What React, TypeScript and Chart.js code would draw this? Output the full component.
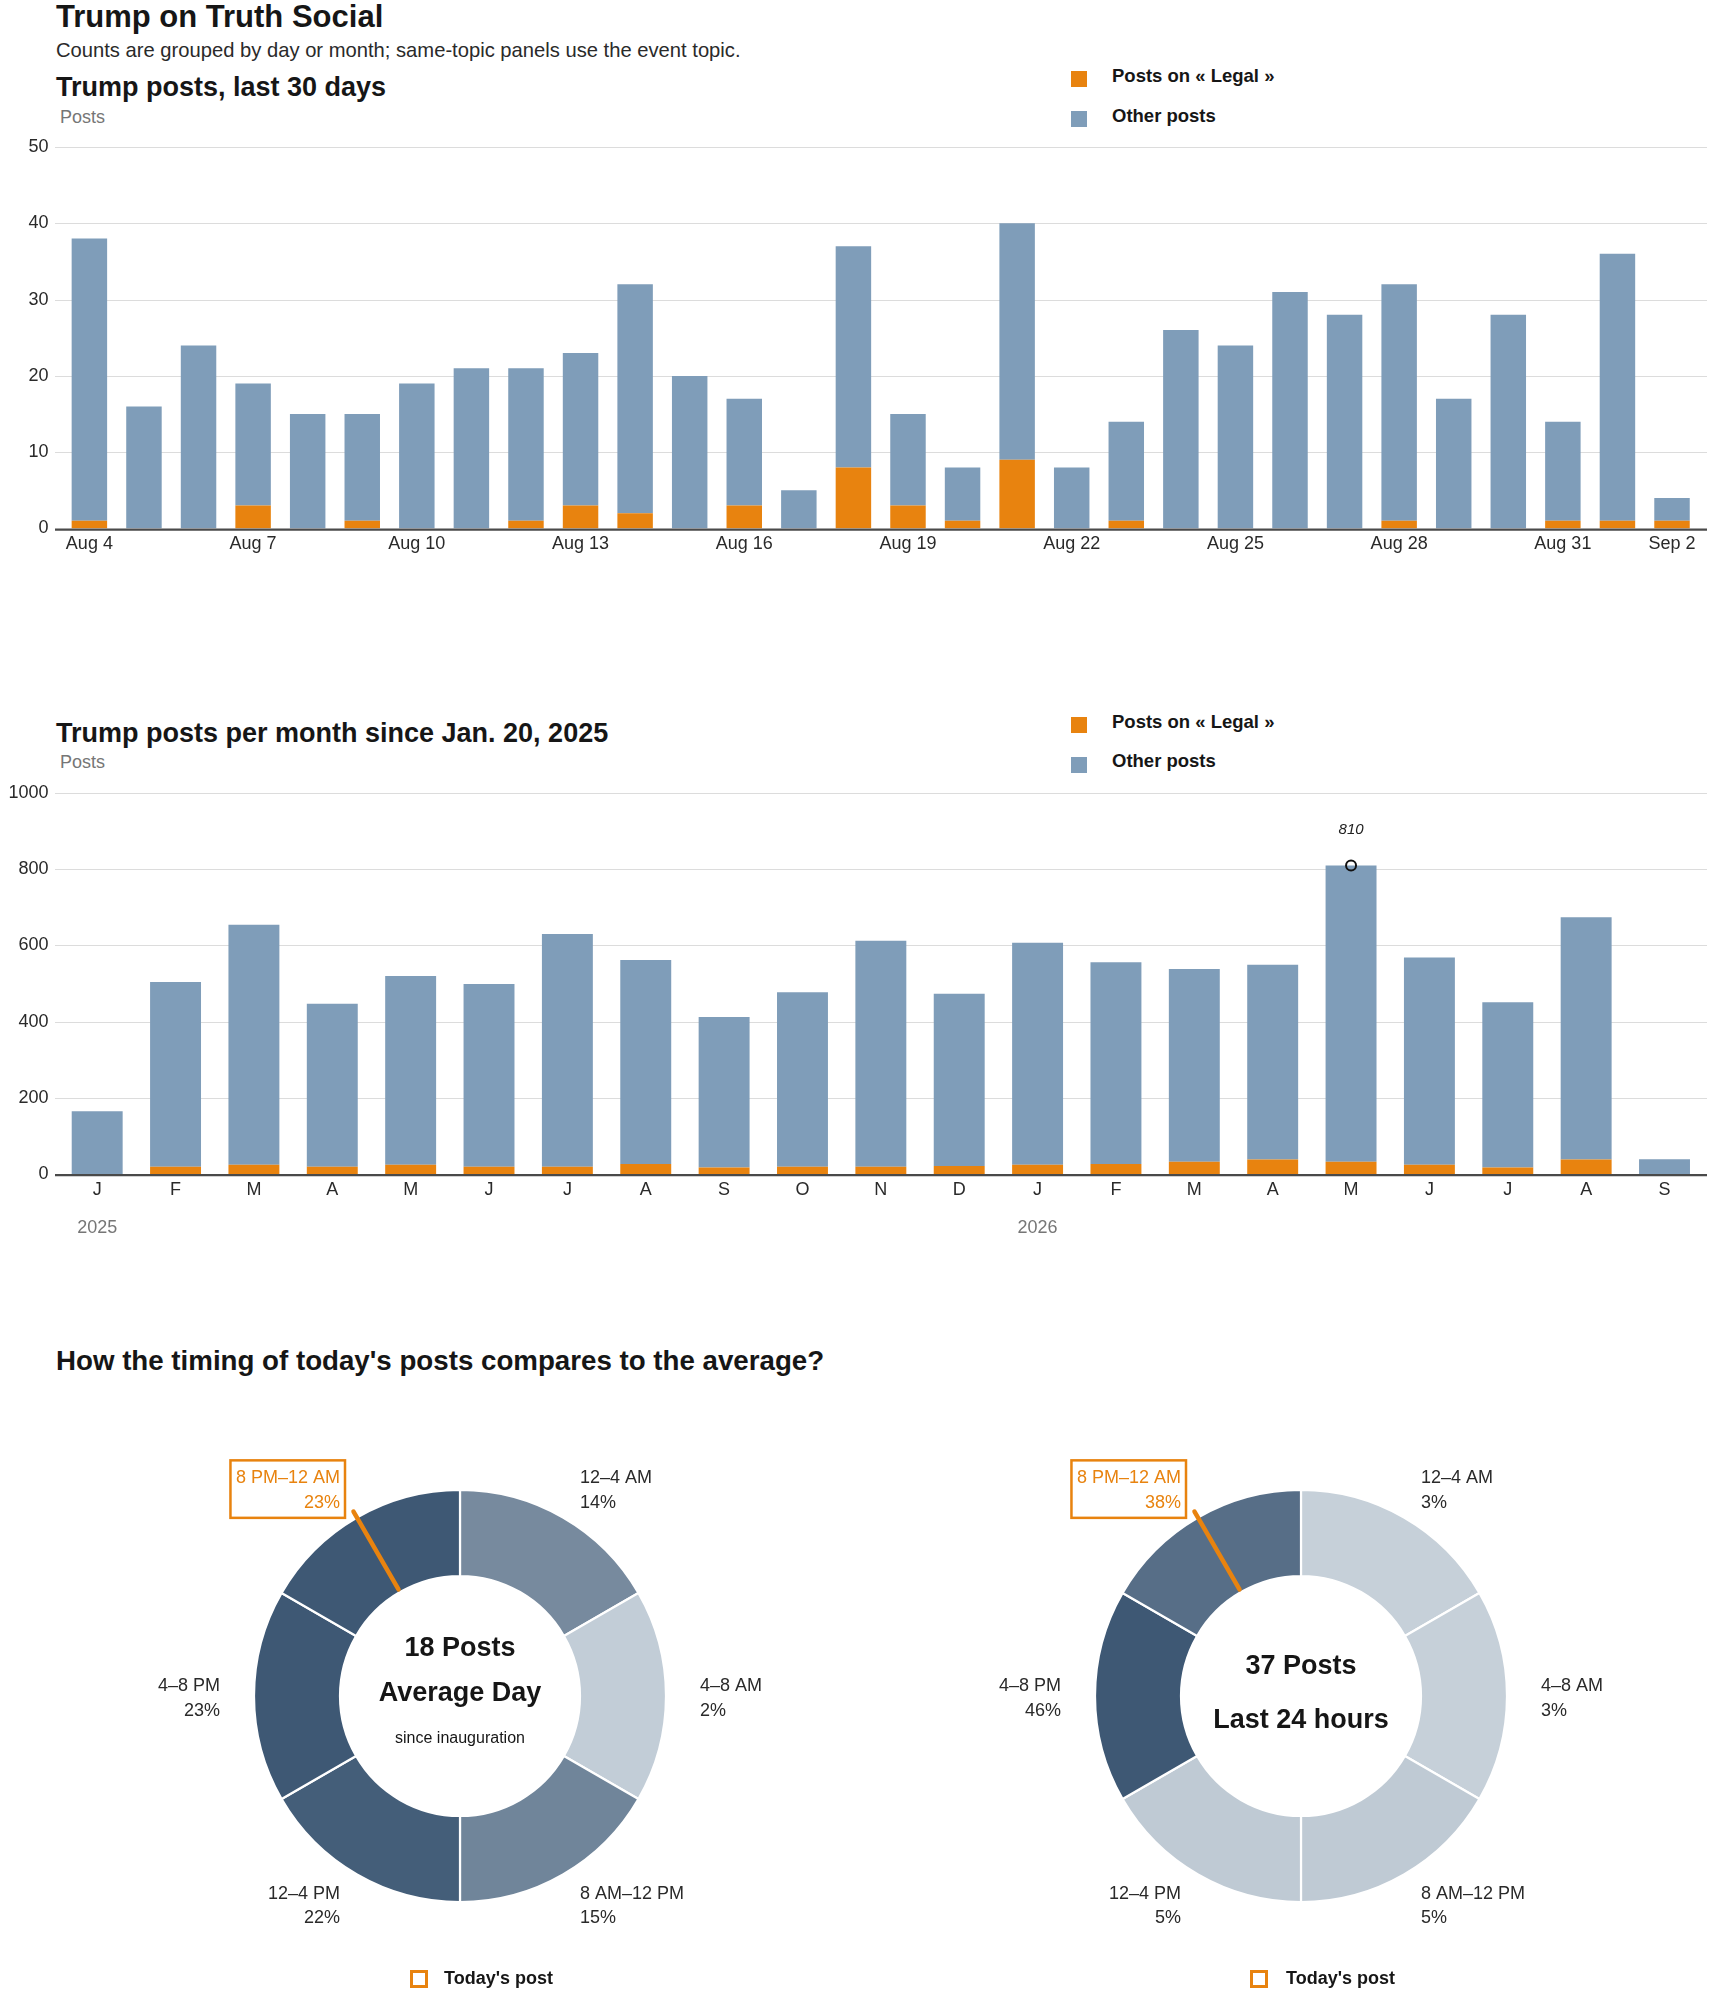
import React, { useEffect, useRef } from "react";
import { Chart, registerables } from "chart.js";

Chart.register(...registerables);

// ---------------- data ----------------
const dayLabels = [
  "Aug 4", "Aug 5", "Aug 6", "Aug 7", "Aug 8", "Aug 9", "Aug 10", "Aug 11", "Aug 12", "Aug 13",
  "Aug 14", "Aug 15", "Aug 16", "Aug 17", "Aug 18", "Aug 19", "Aug 20", "Aug 21", "Aug 22", "Aug 23",
  "Aug 24", "Aug 25", "Aug 26", "Aug 27", "Aug 28", "Aug 29", "Aug 30", "Aug 31", "Sep 1", "Sep 2",
];
const dayTickLabels = ["Aug 4", "Aug 7", "Aug 10", "Aug 13", "Aug 16", "Aug 19", "Aug 22", "Aug 25", "Aug 28", "Aug 31", "Sep 2"];
const dayLegalPosts = [1, 0, 0, 3, 0, 1, 0, 0, 1, 3, 2, 0, 3, 0, 8, 3, 1, 9, 0, 1, 0, 0, 0, 0, 1, 0, 0, 1, 1, 1];
const dayAllPosts = [38, 16, 24, 19, 15, 15, 19, 21, 21, 23, 32, 20, 17, 5, 37, 15, 8, 40, 8, 14, 26, 24, 31, 28, 32, 17, 28, 14, 36, 4];

const monthLabels = ["J", "F", "M", "A", "M", "J", "J", "A", "S", "O", "N", "D", "J", "F", "M", "A", "M", "J", "J", "A", "S"];
const monthLegalPosts = [0, 19, 24, 19, 24, 19, 19, 26, 17, 19, 19, 21, 24, 26, 32, 38, 32, 24, 17, 38, 0];
const monthAllPosts = [165, 504, 654, 447, 520, 499, 630, 562, 412, 477, 612, 473, 607, 556, 538, 549, 810, 568, 451, 674, 39];
const yearLabels = ["2025", "2026"];
const yearStartIndex = [0, 12];

const timeSlots = ["12–4 AM", "4–8 AM", "8 AM–12 PM", "12–4 PM", "4–8 PM", "8 PM–12 AM"];
const slotHours = [4, 4, 4, 4, 4, 4];
const averageShare = [14, 2, 15, 22, 23, 23];
const todayShare = [3, 3, 5, 5, 46, 38];
const todayPostHour = 22;
const averageCenter = ["18 Posts", "Average Day", "since inauguration"];
const todayCenter = ["37 Posts", "Last 24 hours"];

// ---------------- style ----------------
const FONT = "'Liberation Sans', Arial, Helvetica, sans-serif";
const ORANGE = "#e8830f";
const BLUE = "#7f9db9";
const INK = "#161616";
const INK2 = "#2a2a2a";
const GRAY = "#767676";
const GRID = "#dcdcdc";
const AXIS = "#4a4a4a";
const GRID_X0 = 55;
const GRID_X1 = 1707;
const PAGE_W = 1710;
const OFFSET2 = 645.5;

function Txt(props: any) {
  const { x, base, size, bold, color, italic, children } = props;
  return (
    <div
      style={{
        position: "absolute",
        left: x,
        top: base - 0.8465 * size,
        fontSize: size,
        lineHeight: 1,
        fontWeight: bold ? 700 : 400,
        fontStyle: italic ? "italic" : "normal",
        color: color || INK,
        whiteSpace: "nowrap",
        fontFamily: FONT,
      }}
    >
      {children}
    </div>
  );
}

function Swatch(props: any) {
  const { x, y, size, color, hollow } = props;
  return (
    <div
      style={{
        position: "absolute",
        left: x,
        top: y,
        width: size,
        height: size,
        boxSizing: "border-box",
        background: hollow ? "transparent" : color,
        border: hollow ? `3px solid ${color}` : "none",
      }}
    />
  );
}

function BarPanel(props: any) {
  const ref = useRef<HTMLCanvasElement>(null);
  useEffect(() => {
    const { labels, legal, all, yMax, yStep, area, height, showTick, extra } = props;
    const other = all.map((v: number, i: number) => v - legal[i]);
    const gridPlugin = {
      id: "gridExt",
      beforeDatasetsDraw(chart: any) {
        const y = chart.scales.y;
        const ctx = chart.ctx;
        ctx.save();
        ctx.strokeStyle = GRID;
        ctx.lineWidth = 1;
        y.ticks.forEach((t: any) => {
          if (t.value === 0) return;
          const py = Math.round(y.getPixelForValue(t.value)) + 0.5;
          ctx.beginPath();
          ctx.moveTo(GRID_X0, py);
          ctx.lineTo(GRID_X1, py);
          ctx.stroke();
        });
        ctx.restore();
      },
      afterDatasetsDraw(chart: any) {
        const y = chart.scales.y;
        const ctx = chart.ctx;
        const py = y.getPixelForValue(0) + 1.1;
        ctx.save();
        ctx.strokeStyle = AXIS;
        ctx.lineWidth = 2.4;
        ctx.beginPath();
        ctx.moveTo(GRID_X0, py);
        ctx.lineTo(GRID_X1, py);
        ctx.stroke();
        ctx.restore();
      },
    };
    const chart = new Chart(ref.current as HTMLCanvasElement, {
      type: "bar",
      data: {
        labels,
        datasets: [
          { label: "Posts on « Legal »", data: legal, backgroundColor: ORANGE, borderWidth: 0, categoryPercentage: 1, barPercentage: 0.65 },
          { label: "Other posts", data: other, backgroundColor: BLUE, borderWidth: 0, categoryPercentage: 1, barPercentage: 0.65 },
        ],
      },
      options: {
        animation: false,
        responsive: false,
        events: [],
        layout: { padding: { top: area.top, right: PAGE_W - area.right, left: 0, bottom: 0 } },
        plugins: { legend: { display: false }, tooltip: { enabled: false } },
        scales: {
          x: {
            stacked: true,
            grid: { display: false, drawTicks: false },
            border: { display: false },
            ticks: {
              autoSkip: false,
              maxRotation: 0,
              minRotation: 0,
              padding: 5,
              color: INK2,
              font: { family: FONT, size: 18, lineHeight: 1.2 },
              callback: (_v: any, i: number) => (showTick(labels[i], i) ? labels[i] : null),
            },
            afterFit: (s: any) => {
              s.height = height - area.bottom;
            },
          },
          y: {
            stacked: true,
            min: 0,
            max: yMax,
            grid: { display: false, drawTicks: false },
            border: { display: false },
            ticks: {
              stepSize: yStep,
              padding: area.left - 48.5,
              color: INK2,
              font: { family: FONT, size: 18, lineHeight: 0.2 },
              callback: (v: any) => String(v),
            },
            afterFit: (s: any) => {
              s.width = area.left;
            },
          },
        },
      } as any,
      plugins: extra ? [gridPlugin, extra] : [gridPlugin],
    });
    return () => chart.destroy();
  }, []);
  return (
    <canvas
      ref={ref}
      width={PAGE_W}
      height={props.height}
      style={{ position: "absolute", left: 0, top: props.top, width: PAGE_W, height: props.height }}
    />
  );
}

function shadeFor(t: number) {
  const light = [207, 216, 224];
  const dark = [62, 88, 116];
  const c = light.map((l, k) => Math.round(l + (dark[k] - l) * t));
  return `rgb(${c[0]},${c[1]},${c[2]})`;
}

function DonutPanel(props: any) {
  const ref = useRef<HTMLCanvasElement>(null);
  const W = 800;
  const H = 552;
  useEffect(() => {
    const { shares, center, centerStyles } = props;
    const maxShare = Math.max(...shares);
    const colors = shares.map((s: number) => shadeFor(s / maxShare));
    const totalHours = slotHours.reduce((a, b) => a + b, 0);
    let acc = 0;
    let hi = -1;
    slotHours.forEach((h, i) => {
      if (todayPostHour >= acc && todayPostHour < acc + h) hi = i;
      acc += h;
    });
    const labelPlugin = {
      id: "donutLabels",
      afterDraw(chart: any) {
        const ctx = chart.ctx;
        const arcs = chart.getDatasetMeta(0).data;
        const a0 = arcs[0];
        const cx = a0.x;
        const cy = a0.y;
        const outer = a0.outerRadius;
        const inner = a0.innerRadius;
        const R = outer + 34;
        ctx.save();
        ctx.font = `18px ${FONT}`;
        ctx.textBaseline = "alphabetic";
        arcs.forEach((arc: any, i: number) => {
          const a = (arc.startAngle + arc.endAngle) / 2;
          const px = cx + R * Math.cos(a);
          const py = cy + R * Math.sin(a);
          const c = Math.cos(a);
          const align = c > 0.1 ? "left" : c < -0.1 ? "right" : "center";
          ctx.textAlign = align;
          ctx.fillStyle = i === hi ? ORANGE : INK2;
          const l1 = timeSlots[i];
          const l2 = `${shares[i]}%`;
          ctx.fillText(l1, px, py - 4.8);
          ctx.fillText(l2, px, py + 19.5);
          if (i === hi) {
            const w = Math.max(ctx.measureText(l1).width, ctx.measureText(l2).width);
            let x0 = px - 5;
            let x1 = px + w + 5;
            if (align === "right") {
              x0 = px - w - 5.5;
              x1 = px + 5;
            }
            ctx.strokeStyle = ORANGE;
            ctx.lineWidth = 2.5;
            ctx.strokeRect(x0, py - 27.8, x1 - x0, 57.5);
          }
        });
        // today's post marker
        const th = (todayPostHour / totalHours) * Math.PI * 2 - Math.PI / 2;
        ctx.strokeStyle = ORANGE;
        ctx.lineWidth = 4.5;
        ctx.lineCap = "round";
        ctx.beginPath();
        ctx.moveTo(cx + (inner + 3) * Math.cos(th), cy + (inner + 3) * Math.sin(th));
        ctx.lineTo(cx + (outer + 7) * Math.cos(th), cy + (outer + 7) * Math.sin(th));
        ctx.stroke();
        // center text
        ctx.textAlign = "center";
        ctx.fillStyle = INK;
        center.forEach((t: string, k: number) => {
          const st = centerStyles[k];
          ctx.font = `${st.bold ? "bold " : ""}${st.size}px ${FONT}`;
          ctx.fillText(t, cx, cy + st.dy);
        });
        ctx.restore();
      },
    };
    const chart = new Chart(ref.current as HTMLCanvasElement, {
      type: "doughnut",
      data: {
        labels: timeSlots,
        datasets: [
          {
            data: slotHours,
            backgroundColor: colors,
            borderColor: "#ffffff",
            borderWidth: 2.2,
          },
        ],
      },
      options: {
        animation: false,
        responsive: false,
        events: [],
        radius: 206,
        cutout: `${(120 / 206) * 100}%`,
        layout: { padding: 0 },
        plugins: { legend: { display: false }, tooltip: { enabled: false } },
      } as any,
      plugins: [labelPlugin],
    });
    return () => chart.destroy();
  }, []);
  return (
    <canvas
      ref={ref}
      width={W}
      height={H}
      style={{ position: "absolute", left: props.cx - W / 2, top: props.cy - H / 2, width: W, height: H }}
    />
  );
}

const peakPlugin = {
  id: "peak",
  afterDatasetsDraw(chart: any) {
    const x = chart.scales.x;
    const y = chart.scales.y;
    const ctx = chart.ctx;
    let idx = 0;
    monthAllPosts.forEach((v, i) => {
      if (v > monthAllPosts[idx]) idx = i;
    });
    const px = x.getPixelForValue(idx);
    const py = y.getPixelForValue(monthAllPosts[idx]);
    ctx.save();
    ctx.strokeStyle = "#111";
    ctx.lineWidth = 2;
    ctx.beginPath();
    ctx.arc(px, py, 5, 0, Math.PI * 2);
    ctx.stroke();
    ctx.fillStyle = "#222";
    ctx.font = `italic 15px ${FONT}`;
    ctx.textAlign = "center";
    ctx.textBaseline = "alphabetic";
    ctx.fillText(String(monthAllPosts[idx]), px, py - 31);
    ctx.restore();
  },
};

const CH2_TOP = 776;
const yearPlugin = {
  id: "years",
  afterDraw(chart: any) {
    const x = chart.scales.x;
    const ctx = chart.ctx;
    ctx.save();
    ctx.fillStyle = GRAY;
    ctx.font = `18px ${FONT}`;
    ctx.textAlign = "center";
    ctx.textBaseline = "alphabetic";
    yearLabels.forEach((lab, k) => {
      ctx.fillText(lab, x.getPixelForValue(yearStartIndex[k]), 1233.2 - CH2_TOP);
    });
    ctx.restore();
  },
};
const ch2Extra = {
  id: "ch2extra",
  afterDatasetsDraw(chart: any) {
    peakPlugin.afterDatasetsDraw(chart);
  },
  afterDraw(chart: any) {
    yearPlugin.afterDraw(chart);
  },
};

export default function App() {
  const D = OFFSET2;
  return (
    <div
      style={{
        position: "absolute",
        left: 0,
        top: 0,
        width: PAGE_W,
        height: 1993,
        overflow: "hidden",
        background: "#fff",
        fontFamily: FONT,
        color: INK,
      }}
    >
      <Txt x={56} base={27} size={31} bold>Trump on Truth Social</Txt>
      <Txt x={56} base={57} size={20.2} color={INK2}>
        Counts are grouped by day or month; same-topic panels use the event topic.
      </Txt>

      {/* panel 1 */}
      <Txt x={56} base={97} size={27} bold>Trump posts, last 30 days</Txt>
      <Txt x={60} base={123} size={18} color={GRAY}>Posts</Txt>
      <Swatch x={1071} y={71} size={16} color={ORANGE} />
      <Txt x={1112} base={83} size={18.5} bold>Posts on « Legal »</Txt>
      <Swatch x={1071} y={111} size={16} color={BLUE} />
      <Txt x={1112} base={122.5} size={18.5} bold>Other posts</Txt>
      <BarPanel
        top={130}
        height={430}
        labels={dayLabels}
        legal={dayLegalPosts}
        all={dayAllPosts}
        yMax={50}
        yStep={10}
        area={{ left: 62.1, right: 1699.3, top: 17, bottom: 398.5 }}
        showTick={(l: string) => dayTickLabels.includes(l)}
      />

      {/* panel 2 */}
      <Txt x={56} base={97 + D} size={27} bold>Trump posts per month since Jan. 20, 2025</Txt>
      <Txt x={60} base={123 + D} size={18} color={GRAY}>Posts</Txt>
      <Swatch x={1071} y={71 + D} size={16} color={ORANGE} />
      <Txt x={1112} base={83 + D} size={18.5} bold>Posts on « Legal »</Txt>
      <Swatch x={1071} y={111 + D} size={16} color={BLUE} />
      <Txt x={1112} base={122.5 + D} size={18.5} bold>Other posts</Txt>
      <BarPanel
        top={CH2_TOP}
        height={470}
        labels={monthLabels}
        legal={monthLegalPosts}
        all={monthAllPosts}
        yMax={1000}
        yStep={200}
        area={{ left: 58, right: 1703.7, top: 17, bottom: 398 }}
        showTick={() => true}
        extra={ch2Extra}
      />

      {/* panel 3 */}
      <Txt x={56} base={1370.7} size={27.7} bold>How the timing of today's posts compares to the average?</Txt>
      <DonutPanel
        cx={460}
        cy={1696}
        shares={averageShare}
        center={averageCenter}
        centerStyles={[
          { bold: true, size: 27, dy: -39.8 },
          { bold: true, size: 27, dy: 5.3 },
          { bold: false, size: 16, dy: 47.2 },
        ]}
      />
      <DonutPanel
        cx={1301}
        cy={1696}
        shares={todayShare}
        center={todayCenter}
        centerStyles={[
          { bold: true, size: 27, dy: -21.7 },
          { bold: true, size: 27, dy: 31.7 },
        ]}
      />
      <Swatch x={410} y={1969.5} size={18} color={ORANGE} hollow />
      <Txt x={444} base={1984} size={18} bold>Today's post</Txt>
      <Swatch x={1250} y={1969.5} size={18} color={ORANGE} hollow />
      <Txt x={1286} base={1984} size={18} bold>Today's post</Txt>
    </div>
  );
}
